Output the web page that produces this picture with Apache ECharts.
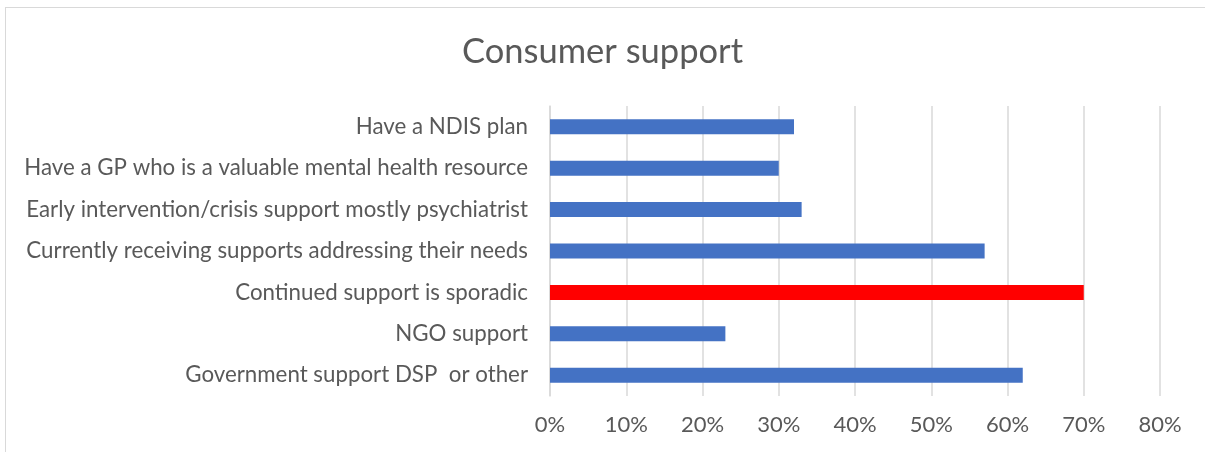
<!DOCTYPE html>
<html><head><meta charset="utf-8">
<script src="https://cdn.jsdelivr.net/npm/echarts@6/dist/echarts.min.js"></script>
<style>
html,body{margin:0;padding:0;background:#fff;overflow:hidden;}
#frame{position:absolute;left:5px;top:7px;width:1220px;height:470px;border:1px solid #d9d9d9;box-sizing:border-box;}
#c{position:absolute;left:0;top:0;width:1205px;height:452px;}
</style></head>
<body>
<div id="frame"></div>
<div id="c"></div>
<script>
const title = "Consumer support";
const categories = [
  "Have a NDIS plan",
  "Have a GP who is a valuable mental health resource",
  "Early intervention/crisis support mostly psychiatrist",
  "Currently receiving supports addressing their needs",
  "Continued support is sporadic",
  "NGO support",
  "Government support DSP  or other"
];
const values = [0.32, 0.30, 0.33, 0.57, 0.70, 0.23, 0.62];
const highlight = [false, false, false, false, true, false, false];

const chart = echarts.init(document.getElementById('c'));
const font = "Lato, 'Open Sans', sans-serif";
chart.setOption({
  backgroundColor: 'transparent',
  animation: false,
  title: {
    text: title, left: 'center', top: 29,
    textStyle: {fontFamily: font, fontSize: 34.5, fontWeight: 'normal', color: '#595959'}
  },
  grid: {left: 550, right: 45, top: 106, bottom: 56, containLabel: false},
  xAxis: {
    type: 'value', min: 0, max: 0.8, interval: 0.1,
    axisLine: {show: false}, axisTick: {show: false},
    splitLine: {lineStyle: {color: '#d9d9d9', width: 1.5}},
    axisLabel: {
      formatter: v => Math.round(v * 100) + '%',
      fontFamily: font, fontSize: 22, color: '#595959', margin: 18
    }
  },
  yAxis: {
    type: 'category', data: categories, inverse: true,
    axisLine: {lineStyle: {color: '#d9d9d9', width: 1.5}},
    axisTick: {show: false},
    axisLabel: {fontFamily: font, fontSize: 22.3, color: '#595959', margin: 22}
  },
  series: [{
    type: 'bar',
    barWidth: 15,
    data: values.map((v, i) => ({value: v, itemStyle: {color: highlight[i] ? '#FF0000' : '#4472C4'}}))
  }]
});
</script>
</body></html>
